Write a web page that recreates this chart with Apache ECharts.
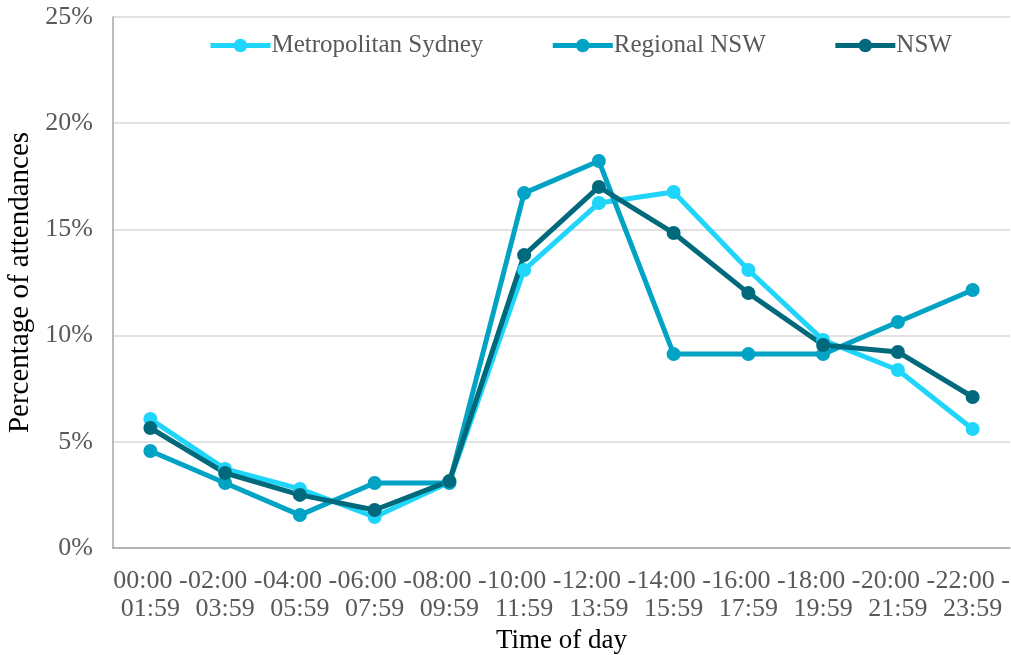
<!DOCTYPE html>
<html><head><meta charset="utf-8">
<script src="https://cdn.jsdelivr.net/npm/echarts@6/dist/echarts.min.js"></script>
<style>html,body{margin:0;padding:0;background:#fff}#c{width:1011px;height:655px}</style>
</head><body><div id="c"></div>
<script>
const categories = ['00:00 -\n01:59','02:00 -\n03:59','04:00 -\n05:59','06:00 -\n07:59','08:00 -\n09:59','10:00 -\n11:59','12:00 -\n13:59','14:00 -\n15:59','16:00 -\n17:59','18:00 -\n19:59','20:00 -\n21:59','22:00 -\n23:59'];
const metroSydney = [6.07, 3.72, 2.78, 1.46, 3.1, 13.09, 16.24, 16.76, 13.09, 9.79, 8.38, 5.6];
const regionalNSW = [4.57, 3.06, 1.55, 3.06, 3.06, 16.71, 18.22, 9.13, 9.13, 9.13, 10.64, 12.15];
const nsw = [5.65, 3.53, 2.5, 1.79, 3.15, 13.79, 17.0, 14.83, 12.0, 9.56, 9.23, 7.11];
const yTicks = [0, 5, 10, 15, 20, 25];

const FONT = 'Liberation Serif';
const chart = echarts.init(document.getElementById('c'), null, {renderer:'canvas'});
function mk(name, data, color){
  return {name, type:'line', data, symbol:'circle', symbolSize:14,
    lineStyle:{width:5,color}, itemStyle:{color}, z:2};
}
chart.setOption({
  animation:false,
  textStyle:{fontFamily:FONT},
  grid:{left:113,right:1,top:17,bottom:107,containLabel:false,outerBoundsMode:'none'},
  legend:{
    left:203, top:28, itemWidth:60, itemHeight:17, itemGap:67,
    lineStyle:{width:5},
    textStyle:{fontFamily:FONT,fontSize:25,color:'#595959',padding:[0,0,0,-4]},
    data:['Metropolitan Sydney','Regional NSW','NSW']
  },
  xAxis:{
    type:'category', data:categories, boundaryGap:true,
    axisLine:{lineStyle:{color:'#a6a6a6',width:1.5}},
    axisTick:{show:false},
    axisLabel:{fontFamily:FONT,fontSize:26,color:'#595959',margin:19,lineHeight:28,interval:0},
    name:'Time of day', nameLocation:'middle', nameGap:75,
    nameTextStyle:{fontFamily:FONT,fontSize:27,color:'#000'}
  },
  yAxis:{
    type:'value', min:yTicks[0], max:yTicks[yTicks.length-1], interval:5,
    axisLine:{show:true,lineStyle:{color:'#a6a6a6',width:1.5}},
    axisTick:{show:false},
    splitLine:{lineStyle:{color:'#d9d9d9',width:1.5}},
    axisLabel:{fontFamily:FONT,fontSize:26,color:'#595959',margin:20,formatter:'{value}%'},
    name:'Percentage of attendances', nameLocation:'middle', nameGap:74,
    nameTextStyle:{fontFamily:FONT,fontSize:29,color:'#000'}
  },
  series:[
    mk('Metropolitan Sydney', metroSydney, '#1fd5f9'),
    mk('Regional NSW', regionalNSW, '#00a3c3'),
    mk('NSW', nsw, '#006a7c')
  ]
});
</script></body></html>
